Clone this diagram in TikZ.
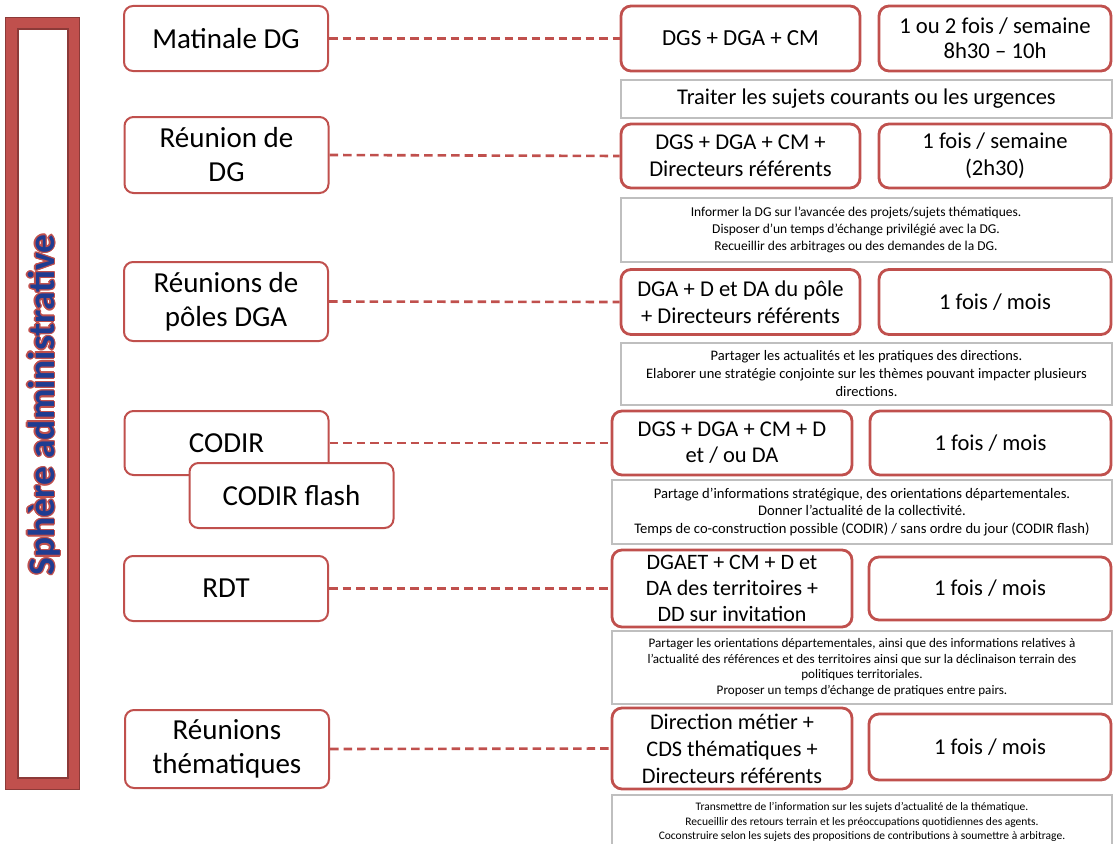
\documentclass[tikz,border=0pt]{standalone}
\usepackage{fontspec}
\setmainfont{Carlito}
\definecolor{boxred}{HTML}{C0504D}
\definecolor{darkred}{HTML}{8C3A38}
\definecolor{goalgrey}{HTML}{BFBFBF}
\definecolor{titleblue}{HTML}{1F3C91}
\begin{document}
\begin{tikzpicture}[x=1pt,y=-1pt,
    left_node/.style={rectangle,rounded corners=9pt,draw=boxred,line width=2pt,fill=white,minimum width=204pt,inner sep=0pt,align=center,font=\fontsize{29}{34}\selectfont},
    who_node/.style={rectangle,rounded corners=10pt,draw=boxred,line width=2.8pt,fill=white,minimum width=239pt,inner sep=0pt,align=center,font=\fontsize{22.6}{27}\selectfont},
    freq_node/.style={who_node,minimum width=232pt},
    goal_node/.style={rectangle,draw=goalgrey,line width=1.3pt,fill=white,inner sep=0pt,align=center,font=\fontsize{13.5}{17}\selectfont},
    dash_link/.style={draw=boxred,line width=2.6pt,dash pattern=on 8.5pt off 5pt}]

    \useasboundingbox (0,0) rectangle (1113,843);
    \clip (0,0) rectangle (1113,843);

    % side bar
    \draw[boxred,line width=12pt] (11,23) rectangle (74,784);
    \draw[darkred,line width=1.2pt] (5.6,17.6) rectangle (79.4,789.4);
    \draw[darkred,line width=2pt] (17.5,29.5) rectangle (67.5,777.5);
    \foreach \a in {0,30,...,330}
        \path (44,405) ++(\a:1.3pt) node[rotate=90,text=boxred,font=\fontsize{37.5}{44}\selectfont\bfseries] (t\a) {Sphère administrative};
    \node[rotate=90,text=titleblue,font=\fontsize{37.5}{44}\selectfont\bfseries] (title) at (44,405) {Sphère administrative};

    % meetings
    \node[left_node,minimum height=65pt] (l1) at (226,38.5) {Matinale DG};
    \node[left_node,minimum height=76pt] (l2) at (226.5,155) {Réunion de\\DG};
    \node[left_node,minimum height=79pt] (l3) at (226,301.5) {Réunions de\\pôles DGA};
    \node[left_node,minimum height=64pt] (l4) at (226.5,443) {CODIR};
    \node[left_node,minimum height=65pt] (l5) at (291.5,495.5) {CODIR flash};
    \node[left_node,minimum height=65pt] (l6) at (226,588.5) {RDT};
    \node[left_node,minimum height=78pt] (l7) at (227,749) {Réunions\\thématiques};

    % who
    \node[who_node,minimum height=65pt,font=\fontsize{23}{27}\selectfont] (w1) at (740.5,38.5) {DGS + DGA + CM};
    \node[who_node,minimum height=64pt] (w2) at (740.5,156) {DGS + DGA + CM +\\Directeurs référents};
    \node[who_node,minimum height=65pt] (w3) at (740.5,302) {DGA + D et DA du pôle\\+ Directeurs référents};
    \node[who_node,minimum height=64pt,minimum width=240pt,font=\fontsize{22.5}{26}\selectfont] (w4) at (732,443) {DGS + DGA + CM + D\\et / ou DA};
    \node[who_node,minimum height=77pt,minimum width=240pt,font=\fontsize{22}{26}\selectfont] (w5) at (732,588.5) {DGAET + CM + D et\\DA des territoires +\\DD sur invitation};
    \node[who_node,minimum height=81pt,minimum width=240pt,font=\fontsize{22.3}{27}\selectfont] (w6) at (732,748.5) {Direction métier +\\CDS thématiques +\\Directeurs référents};

    % how often
    \node[freq_node,minimum height=65pt,font=\fontsize{22.7}{25}\selectfont] (f1) at (995,38.5) {1 ou 2 fois / semaine\\8h30 – 10h};
    \node[freq_node,minimum height=64pt] (f2) at (995,156) {1 fois / semaine\\(2h30)};
    \node[freq_node,minimum height=65pt] (f3) at (995,302) {1 fois / mois};
    \node[freq_node,minimum height=64pt,minimum width=241pt] (f4) at (990.5,443) {1 fois / mois};
    \node[freq_node,minimum height=63pt,minimum width=242pt] (f5) at (990,588.5) {1 fois / mois};
    \node[freq_node,minimum height=66pt,minimum width=242pt] (f6) at (990,747) {1 fois / mois};

    % goals
    \node[goal_node,minimum width=491pt,minimum height=38pt,font=\fontsize{22.5}{26}\selectfont] (g1) at (866.5,99) {Traiter les sujets courants ou les urgences};
    \node[goal_node,minimum width=491pt,minimum height=64pt] (g2) at (866.5,230) {\begin{tabular}{@{}c@{}}Informer la DG sur l’avancée des projets/sujets thématiques.\\Disposer d’un temps d’échange privilégié avec la DG.\\Recueillir des arbitrages ou des demandes de la DG.\end{tabular}\kern21pt};
    \node[goal_node,minimum width=491pt,minimum height=62pt,font=\fontsize{14.5}{18}\selectfont] (g3) at (866.5,374) {Partager les actualités et les pratiques des directions.\\Elaborer une stratégie conjointe sur les thèmes pouvant impacter plusieurs\\directions.};
    \node[goal_node,minimum width=500pt,minimum height=64pt,font=\fontsize{14.6}{17.5}\selectfont] (g4) at (862,512) {Partage d’informations stratégique, des orientations départementales.\\Donner l’actualité de la collectivité.\\Temps de co-construction possible (CODIR) / sans ordre du jour (CODIR flash)};
    \node[goal_node,minimum width=500pt,minimum height=73pt,font=\fontsize{13.1}{15.7}\selectfont] (g5) at (862,667.5) {Partager les orientations départementales, ainsi que des informations relatives à\\l’actualité des références et des territoires ainsi que sur la déclinaison terrain des\\politiques territoriales.\\Proposer un temps d’échange de pratiques entre pairs.};
    \node[goal_node,minimum width=500pt,minimum height=54pt,font=\fontsize{11.5}{14.5}\selectfont] (g6) at (862,822) {Transmettre de l’information sur les sujets d’actualité de la thématique.\\Recueillir des retours terrain et les préoccupations quotidiennes des agents.\\Coconstruire selon les sujets des propositions de contributions à soumettre à arbitrage.};

    \draw[dash_link] (l1.east) -- (w1.west);
    \draw[dash_link] (l2.east) -- (w2.west);
    \draw[dash_link] (l3.east) -- (w3.west);
    \draw[dash_link] (l4.east) -- (w4.west);
    \draw[dash_link] (l6.east) -- (w5.west);
    \draw[dash_link] (l7.east) -- (w6.west);
\end{tikzpicture}
\end{document}
